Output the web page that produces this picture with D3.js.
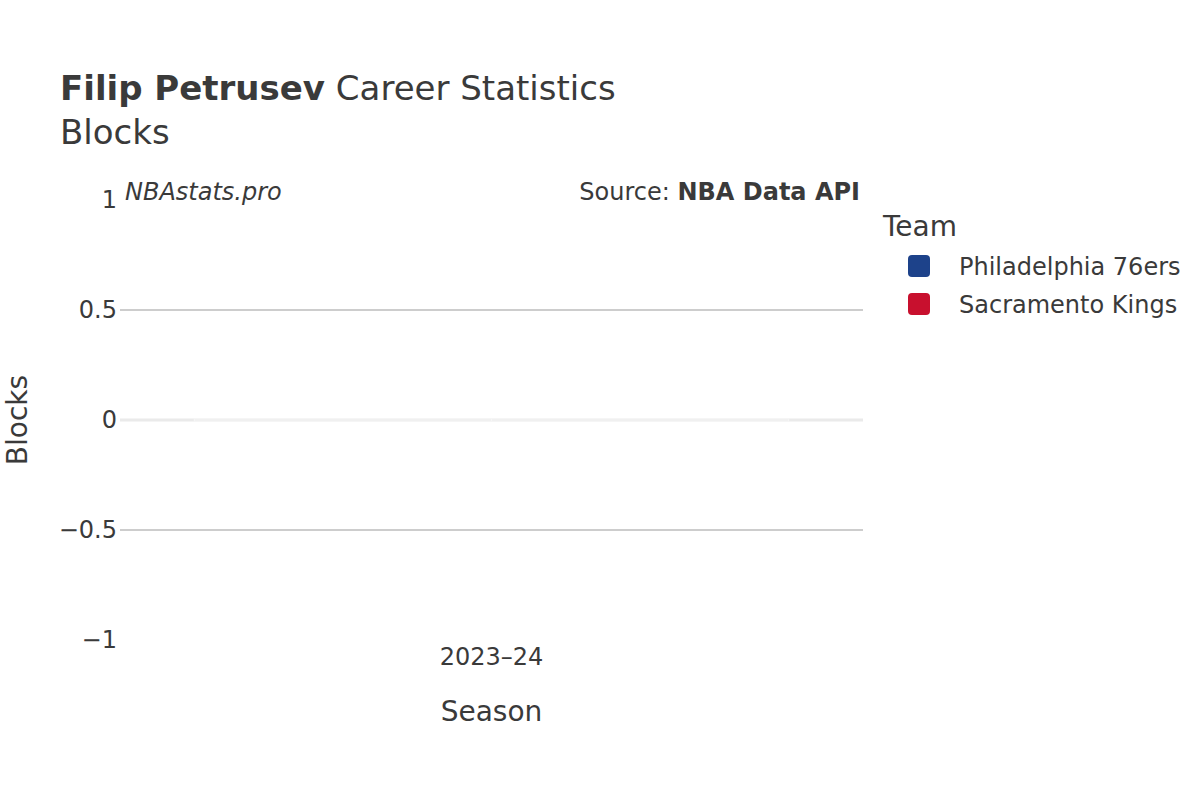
<!DOCTYPE html>
<html>
<head>
<meta charset="utf-8">
<script src="https://cdn.jsdelivr.net/npm/d3@7"></script>
<style>
  body { margin: 0; background: #fff; }
  text { font-family: "DejaVu Sans", sans-serif; fill: #3a3a3a; }
</style>
</head>
<body>
<div id="chart"></div>
<script>
// Data
const seasons = ["2023\u201324"];
const teams = ["Philadelphia 76ers", "Sacramento Kings"];
const teamColours = ["#1D428A", "#C8102E"];
const blocks = [[0], [0]]; // per team, per season
const yTicks = [-1, -0.5, 0, 0.5, 1];

// Dimensions and margins
const width = 1200, height = 800;
const margin = { top: 200, right: 337, bottom: 160, left: 120 };
const plotW = width - margin.left - margin.right;
const plotH = height - margin.top - margin.bottom;

const svg = d3.select("#chart")
    .append("svg")
    .attr("width", width)
    .attr("height", height);

const g = svg.append("g")
    .attr("transform", `translate(${margin.left},${margin.top})`);

// Scales
const xScale = d3.scaleBand()
    .domain(seasons)
    .range([0, plotW])
    .paddingInner(0.2)
    .paddingOuter(0.1);

const xInner = d3.scaleBand()
    .domain(teams)
    .range([0, xScale.bandwidth()]);

const yScale = d3.scaleLinear()
    .domain([-1, 1])
    .range([plotH, 0]);

const colourScale = d3.scaleOrdinal(teamColours).domain(teams);

// Gridlines (skip the plot edges)
g.selectAll(".grid")
    .data(yTicks.filter(t => t !== 0 && Math.abs(t) < 1))
    .enter()
    .append("line")
    .attr("x1", 0)
    .attr("x2", plotW)
    .attr("y1", d => yScale(d))
    .attr("y2", d => yScale(d))
    .attr("stroke", "#bdbdbd")
    .attr("stroke-width", 1.5);

// Zero line
g.append("line")
    .attr("x1", 0)
    .attr("x2", plotW)
    .attr("y1", yScale(0))
    .attr("y2", yScale(0))
    .attr("stroke", "#eaeaea")
    .attr("stroke-width", 3);

// Bars (all zero, so they only show as a faint outline on the zero line)
const barData = [];
teams.forEach((team, i) => {
    seasons.forEach((s, j) => barData.push({ team, season: s, value: blocks[i][j] }));
});

g.selectAll(".bar")
    .data(barData)
    .enter()
    .append("rect")
    .attr("class", "bar")
    .attr("x", d => xScale(d.season) + xInner(d.team))
    .attr("width", xInner.bandwidth())
    .attr("y", d => Math.min(yScale(d.value), yScale(0)) - 1)
    .attr("height", d => Math.abs(yScale(d.value) - yScale(0)) + 2)
    .attr("fill", d => colourScale(d.team))
    .attr("fill-opacity", 0)
    .attr("stroke", "#f6f6f6")
    .attr("stroke-width", 1);

// Y axis
const yAxis = g.append("g")
    .call(d3.axisLeft(yScale).tickValues(yTicks).tickSize(0).tickPadding(3)
        .tickFormat(d => d3.format("")(d).replace("-", "\u2212")));
yAxis.select(".domain").remove();
yAxis.selectAll("text")
    .style("font-size", "24px")
    .attr("fill", "#3a3a3a")
    .attr("font-family", "DejaVu Sans");

// X axis
const xAxis = g.append("g")
    .attr("transform", `translate(0,${plotH})`)
    .call(d3.axisBottom(xScale).tickSize(0).tickPadding(8));
xAxis.select(".domain").remove();
xAxis.selectAll("text")
    .style("font-size", "24px")
    .attr("fill", "#3a3a3a")
    .attr("font-family", "DejaVu Sans");

// Axis titles
svg.append("text")
    .attr("text-anchor", "middle")
    .attr("x", margin.left + plotW / 2)
    .attr("y", 721)
    .style("font-size", "28px")
    .text("Season");

svg.append("text")
    .attr("text-anchor", "middle")
    .attr("transform", `translate(27,${margin.top + plotH / 2}) rotate(-90)`)
    .style("font-size", "28px")
    .text("Blocks");

// Title
const title = svg.append("text")
    .attr("x", 60)
    .attr("y", 100)
    .style("font-size", "34px");
title.append("tspan").attr("font-weight", "bold").text("Filip Petrusev");
title.append("tspan").text(" Career Statistics");

svg.append("text")
    .attr("x", 60)
    .attr("y", 144)
    .style("font-size", "34px")
    .text("Blocks");

// Annotations
svg.append("text")
    .attr("x", 125)
    .attr("y", 200)
    .style("font-size", "24px")
    .style("font-style", "italic")
    .text("NBAstats.pro");

const source = svg.append("text")
    .attr("x", 860)
    .attr("y", 200)
    .attr("text-anchor", "end")
    .style("font-size", "24px");
source.append("tspan").text("Source: ");
source.append("tspan").attr("font-weight", "bold").text("NBA Data API");

// Legend
const legend = svg.append("g")
    .attr("transform", "translate(883,0)");

legend.append("text")
    .attr("x", 0)
    .attr("y", 236)
    .style("font-size", "28px")
    .text("Team");

teams.forEach((t, i) => {
    legend.append("rect")
        .attr("x", 25)
        .attr("y", 255 + i * 38)
        .attr("width", 22)
        .attr("height", 22)
        .attr("rx", 4)
        .attr("fill", colourScale(t));

    legend.append("text")
        .attr("x", 76)
        .attr("y", 275 + i * 38)
        .style("font-size", "24px")
        .text(t);
});
</script>
</body>
</html>
